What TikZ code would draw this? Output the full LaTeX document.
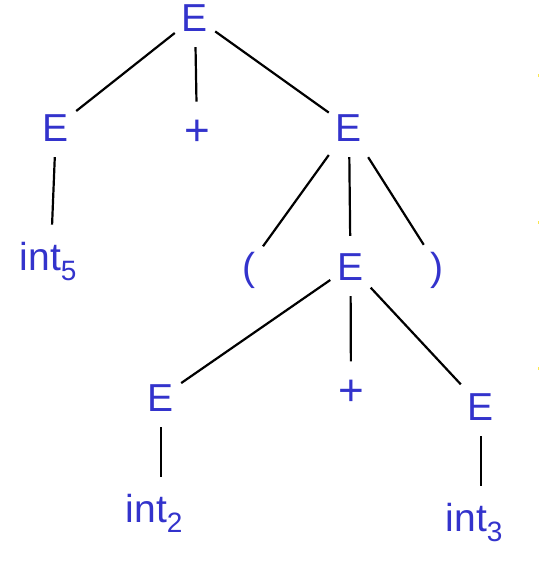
\documentclass[tikz,border=0pt]{standalone}
\usepackage{fontspec}
\setmainfont{Liberation Sans}
\definecolor{symblue}{RGB}{51,51,204}
\definecolor{markyellow}{RGB}{250,230,80}
\tikzset{
  sym/.style={shape=rectangle, inner sep=0pt, minimum width=40pt, minimum height=60pt,
    text height=28pt, text depth=0pt, text=symblue, font=\fontsize{39}{39}\selectfont},
  plussym/.style={sym, font=\fontsize{44}{44}\selectfont},
  parsym/.style={sym, minimum width=28pt, minimum height=42pt},
  leaf/.style={shape=rectangle, inner xsep=0pt, inner ysep=17pt, anchor=base west,
    text=symblue, font=\fontsize{39}{39}\selectfont},
  edge/.style={draw=black, line width=2.2pt}
}
\newcommand{\intsub}[1]{int\raisebox{-10pt}{\fontsize{28}{28}\selectfont #1}}
\begin{document}
\begin{tikzpicture}[x=1pt,y=-1pt]
\useasboundingbox (0,0) rectangle (539,568);
\fill[white] (0,0) rectangle (539,568);
% nodes
\node[sym] (root) at (195,17) {E};
\node[sym] (lE) at (56,127) {E};
\node[plussym] (p1) at (197,131.9) {+};
\node[sym] (rE) at (349,127) {E};
\node[leaf] (int5) at (19.5,270) {\intsub{5}};
\node[parsym] (lp) at (248.8,266) {(};
\node[sym] (mE) at (350.5,266) {E};
\node[parsym] (rp) at (437.2,266) {)};
\node[sym] (lE2) at (161,397) {E};
\node[plussym] (p2) at (351,391.5) {+};
\node[sym] (rE2) at (481,406) {E};
\node[leaf] (int2) at (125.5,522) {\intsub{2}};
\node[leaf] (int3) at (445.5,531) {\intsub{3}};
% edges
\draw[edge] (root) -- (lE);
\draw[edge] (root) -- (p1);
\draw[edge] (root) -- (rE);
\draw[edge] (lE) -- ([xshift=4pt]int5.north);
\draw[edge] (rE) -- (lp);
\draw[edge] (rE) -- (mE);
\draw[edge] (rE) -- (rp);
\draw[edge] (mE) -- (lE2);
\draw[edge] (mE) -- (p2);
\draw[edge] (mE) -- (rE2);
\draw[edge] (lE2) -- (lE2 |- int2.north);
\draw[edge] (rE2) -- (rE2 |- int3.north);
% small marks at the right edge
\fill[markyellow] (537.5,73.5) rectangle (539,76.5);
\fill[markyellow] (537.5,220.5) rectangle (539,223.5);
\fill[markyellow] (537.5,366.5) rectangle (539,369.5);
\end{tikzpicture}
\end{document}
